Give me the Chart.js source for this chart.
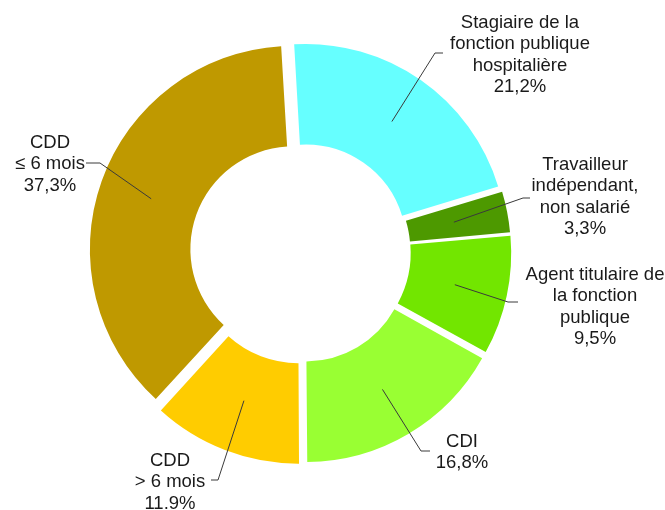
<!DOCTYPE html>
<html>
<head>
<meta charset="utf-8">
<script src="https://cdn.jsdelivr.net/npm/chart.js@4.4.1/dist/chart.umd.min.js"></script>
<style>
  html, body { margin: 0; padding: 0; background: #ffffff; }
  #wrap { width: 665px; height: 510px; }
</style>
</head>
<body>
<div id="wrap"><canvas id="c" width="665" height="510"></canvas></div>
<script>
// ---- data ----
const categories = [
  'Stagiaire de la fonction publique hospitalière',
  'Travailleur indépendant, non salarié',
  'Agent titulaire de la fonction publique',
  'CDI',
  'CDD > 6 mois',
  'CDD ≤ 6 mois'
];
const values = [21.2, 3.3, 9.5, 16.8, 11.9, 37.3];
const valueLabels = ['21,2%', '3,3%', '9,5%', '16,8%', '11.9%', '37,3%'];
const labelLines = [
  ['Stagiaire de la', 'fonction publique', 'hospitalière'],
  ['Travailleur', 'indépendant,', 'non salarié'],
  ['Agent titulaire de', 'la fonction', 'publique'],
  ['CDI'],
  ['CDD', '> 6 mois'],
  ['CDD', '≤ 6 mois']
];

// ---- styles / layout ----
const colors = ['#66FFFF', '#4D9900', '#72E600', '#99FF33', '#FFCC00', '#BF9900'];
const sliceOffsets = [33, 20, 26, 36, 34, 33];
// label anchor: text centre x, first line middle y, elbow point, end of horizontal tick
const labelLayout = [
  { cx: 520, y0: 23,  elbow: [435, 53],  end: [443, 53] },
  { cx: 585, y0: 165, elbow: [523, 198], end: [530, 198] },
  { cx: 595, y0: 275, elbow: [508, 302], end: [518, 302] },
  { cx: 462, y0: 442, elbow: [421, 451], end: [430, 451] },
  { cx: 170, y0: 461, elbow: [218, 480], end: [211, 480] },
  { cx: 50,  y0: 143, elbow: [100, 163], end: [86, 163] }
];
const FONT = '18.5px "Liberation Sans", Arial, sans-serif';
const LINE_H = 21.3;

const labelPlugin = {
  id: 'calloutLabels',
  afterDatasetsDraw(chart) {
    const ctx = chart.ctx;
    const meta = chart.getDatasetMeta(0);
    ctx.save();
    meta.data.forEach((arc, i) => {
      const p = arc.getProps(['x', 'y', 'startAngle', 'endAngle', 'innerRadius', 'outerRadius'], true);
      const mid = (p.startAngle + p.endAngle) / 2;
      const t = sliceOffsets[i] / 4;
      const r = (p.innerRadius + p.outerRadius) / 2 + t;
      const sx = p.x + Math.cos(mid) * r;
      const sy = p.y + Math.sin(mid) * r;
      const L = labelLayout[i];
      ctx.beginPath();
      ctx.strokeStyle = '#3a3a3a';
      ctx.lineWidth = 1;
      ctx.moveTo(sx, sy);
      ctx.lineTo(L.elbow[0], L.elbow[1]);
      ctx.lineTo(L.end[0], L.end[1]);
      ctx.stroke();

      ctx.fillStyle = '#1a1a1a';
      ctx.font = FONT;
      ctx.textAlign = 'center';
      ctx.textBaseline = 'middle';
      const lines = labelLines[i].concat([valueLabels[i]]);
      lines.forEach((ln, k) => ctx.fillText(ln, L.cx, L.y0 + k * LINE_H));
    });
    ctx.restore();
  }
};

new Chart(document.getElementById('c'), {
  type: 'doughnut',
  data: {
    labels: categories,
    datasets: [{
      data: values,
      backgroundColor: colors,
      borderWidth: 0,
      offset: sliceOffsets,
      hoverOffset: 0
    }]
  },
  options: {
    responsive: false,
    animation: false,
    rotation: -3.3,
    radius: 201,
    cutout: '50%',
    layout: { padding: { left: 0, right: 63, top: 0, bottom: 6 } },
    plugins: {
      legend: { display: false },
      tooltip: { enabled: false }
    },
    events: []
  },
  plugins: [labelPlugin]
});
</script>
</body>
</html>
